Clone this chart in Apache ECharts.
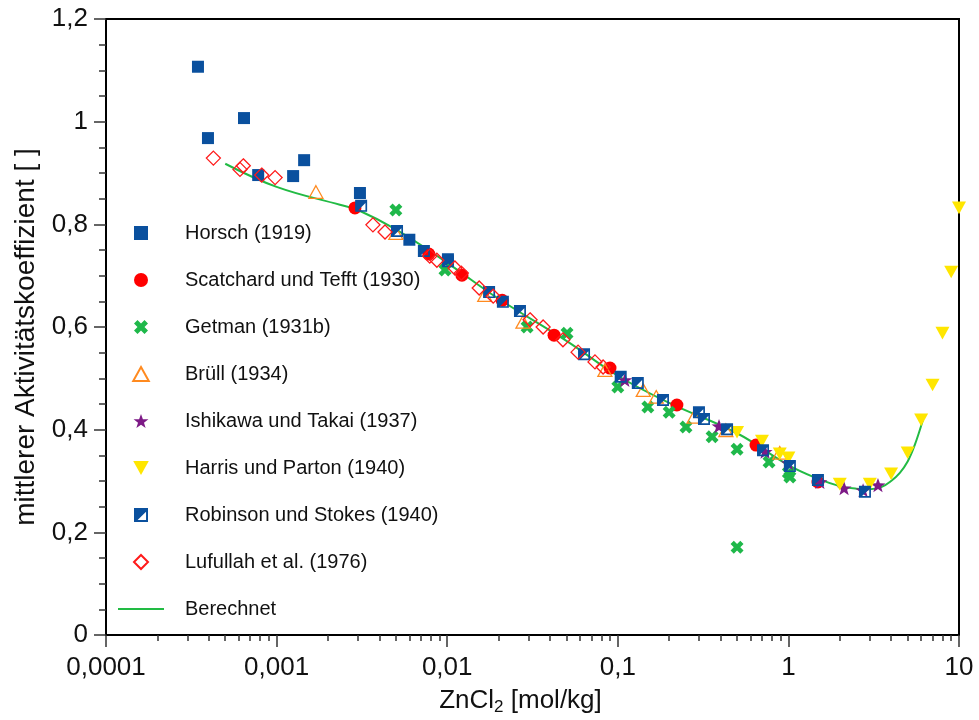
<!DOCTYPE html>
<html>
<head>
<meta charset="utf-8">
<script src="https://cdn.jsdelivr.net/npm/echarts@6/dist/echarts.min.js"></script>
<style>
html, body { margin: 0; padding: 0; background: #fff; }
#chart { width: 979px; height: 720px; }
</style>
</head>
<body>
<div id="chart"></div>
<script>
// Messwerte: [Molalität mol/kg, mittlerer Aktivitätskoeffizient]
var horsch = [[0.000346, 1.107], [0.000396, 0.968], [0.000644, 1.007], [0.00078, 0.896], [0.00125, 0.894],
	[0.00145, 0.925], [0.00308, 0.861], [0.0060, 0.770], [0.0101, 0.732]];
var scatchard = [[0.00288, 0.832], [0.0078, 0.742], [0.0122, 0.701], [0.021, 0.652], [0.0423, 0.584],
	[0.090, 0.520], [0.222, 0.448], [0.646, 0.370], [1.49, 0.298]];
var getman = [[0.005, 0.828], [0.0097, 0.711], [0.0294, 0.600], [0.0504, 0.588], [0.1, 0.483], [0.15, 0.444],
	[0.2, 0.434], [0.251, 0.405], [0.357, 0.386], [0.5, 0.362], [0.5, 0.171], [0.77, 0.337], [1.0, 0.316], [1.02, 0.308]];
var bruell = [[0.0017, 0.863], [0.005, 0.783], [0.0166, 0.662], [0.0278, 0.610], [0.084, 0.516], [0.141, 0.477],
	[0.168, 0.464], [0.28, 0.425], [0.43, 0.399], [0.89, 0.355]];
var ishikawa = [[0.110, 0.497], [0.392, 0.407], [0.73, 0.357], [1.0, 0.335], [1.53, 0.298], [2.12, 0.286],
	[2.74, 0.282], [3.35, 0.292]];
var harris = [[0.5, 0.395], [0.70, 0.378], [0.89, 0.353], [1.0, 0.345], [2.0, 0.294], [3.0, 0.294], [4.0, 0.314],
	[5.0, 0.355], [6.0, 0.419], [7.0, 0.487], [8.0, 0.588], [9.0, 0.707], [10, 0.832]];
var robinson = [[0.00313, 0.836], [0.00508, 0.787], [0.0073, 0.748], [0.0101, 0.728], [0.0176, 0.668],
	[0.0212, 0.649], [0.0267, 0.631], [0.0634, 0.547], [0.104, 0.503], [0.131, 0.491], [0.184, 0.458],
	[0.299, 0.434], [0.32, 0.421], [0.437, 0.401], [0.71, 0.360], [1.02, 0.329], [1.49, 0.302], [2.81, 0.279]];
var lufullah = [[0.000426, 0.929], [0.00061, 0.907], [0.000638, 0.914], [0.000818, 0.896], [0.00098, 0.891],
	[0.00367, 0.799], [0.00432, 0.785], [0.0079, 0.738], [0.0087, 0.730], [0.0111, 0.715], [0.0121, 0.705],
	[0.0154, 0.676], [0.0186, 0.660], [0.0306, 0.614], [0.0365, 0.600], [0.0477, 0.575], [0.0585, 0.551],
	[0.0735, 0.532], [0.082, 0.522]];
// berechnete Kurve
var berechnet = [[0.0005, 0.918], [0.001, 0.873], [0.00235, 0.838], [0.003, 0.828], [0.005, 0.790], [0.01, 0.725],
	[0.02, 0.655], [0.05, 0.573], [0.1, 0.505], [0.2, 0.452], [0.5, 0.393], [1.0, 0.331], [1.5, 0.304],
	[2.0, 0.290], [2.5, 0.285], [3.0, 0.284], [3.5, 0.288], [4.0, 0.300], [4.5, 0.316], [5.0, 0.338],
	[5.5, 0.370], [6.13, 0.418]];

var xTickLabels = ['0,0001', '0,001', '0,01', '0,1', '1', '10'];

// Nebenstriche der log-Achse (2..9 je Dekade), im log-Raum
var xMinor = [];
for (var k = -4; k < 1; k++) {
	for (var m = 2; m <= 9; m++) {
		xMinor.push(k + Math.log10(m));
	}
}

var FONT = '"Liberation Sans", Arial, sans-serif';
var tickStyle = { color: '#333', width: 1.5 };

// Symbole als Pfade, damit die Legende das Seitenverhältnis behält
var SYM = {
	quadrat: 'path://M0,0 L10,0 L10,10 L0,10 Z',
	kreuz: 'path://M0,2.5 L2.5,0 L5,2.5 L7.5,0 L10,2.5 L7.5,5 L10,7.5 L7.5,10 L5,7.5 L2.5,10 L0,7.5 L2.5,5 Z',
	dreieck: 'path://M5,0 L10,9 L0,9 Z',
	dreieckUnten: 'path://M0,0 L10,0 L5,9 Z',
	stern: 'path://M12,1 L14.9,9.1 L23.4,9.2 L16.6,14.3 L19.1,22.5 L12,17.6 L4.9,22.5 L7.4,14.3 L0.6,9.2 L9.1,9.1 Z',
	halb: 'path://M0,0 L10,0 L10,10 L0,10 Z M8.6,2.6 L2.6,8.6 L8.6,8.6 Z',
	raute: 'path://M5,0 L10,5 L5,10 L0,5 Z'
};

function punkte(name, data, symbol, size, itemStyle) {
	itemStyle.opacity = 1;
	return {
		name: name,
		type: 'scatter',
		data: data,
		symbol: symbol,
		symbolSize: size,
		symbolKeepAspect: true,
		itemStyle: itemStyle,
		emphasis: { disabled: true }
	};
}

var chart = echarts.init(document.getElementById('chart'));

chart.setOption({
	animation: false,
	textStyle: { fontFamily: FONT },
	grid: {
		left: 106, right: 20, top: 19, bottom: 85,
		outerBoundsMode: 'none',
		containLabel: false,
		show: true, borderColor: '#000', borderWidth: 2
	},
	legend: {
		orient: 'vertical',
		left: 117,
		top: 223,
		padding: 0,
		itemWidth: 46,
		itemHeight: 14,
		itemGap: 27,
		symbolKeepAspect: true,
		textStyle: { fontFamily: FONT, fontSize: 20, color: '#111', lineHeight: 20, padding: [0, 0, 0, 16] },
		data: ['Horsch (1919)', 'Scatchard und Tefft (1930)', 'Getman (1931b)', 'Brüll (1934)',
			'Ishikawa und Takai (1937)', 'Harris und Parton (1940)', 'Robinson und Stokes (1940)',
			'Lufullah et al. (1976)', { name: 'Berechnet', itemStyle: { opacity: 0 } }]
	},
	xAxis: [{
		type: 'log',
		logBase: 10,
		min: 0.0001,
		max: 10,
		axisLine: { lineStyle: { color: '#000', width: 2 } },
		axisTick: { length: 12, lineStyle: tickStyle },
		axisLabel: {
			fontSize: 26, margin: 20, color: '#111', fontFamily: FONT,
			formatter: function (v) { return xTickLabels[Math.round(Math.log10(v)) + 4]; }
		},
		splitLine: { show: false },
		name: '{n|ZnCl}{s|2}{n| [mol/kg]}',
		nameLocation: 'middle',
		nameGap: 50,
		nameTextStyle: {
			padding: [0, 24, 0, 0],
			rich: {
				n: { fontSize: 26, fontFamily: FONT, color: '#111' },
				s: { fontSize: 17, fontFamily: FONT, color: '#111', padding: [14, 0, 0, 0] }
			}
		}
	}, {
		type: 'value',
		min: -4,
		max: 1,
		position: 'bottom',
		axisLine: { show: false },
		axisLabel: { show: false },
		splitLine: { show: false },
		axisTick: { customValues: xMinor, length: 6, lineStyle: tickStyle }
	}],
	yAxis: {
		type: 'value',
		min: 0,
		max: 1.2,
		interval: 0.2,
		axisLine: { show: true, onZero: false, lineStyle: { color: '#000', width: 2 } },
		axisTick: { show: true, length: 12, lineStyle: tickStyle },
		minorTick: { show: true, splitNumber: 4, length: 7, lineStyle: tickStyle },
		splitLine: { show: false },
		axisLabel: {
			fontSize: 26, margin: 18, color: '#111', fontFamily: FONT,
			formatter: function (v) { return String(Math.round(v * 10) / 10).replace('.', ','); }
		},
		name: 'mittlerer Aktivitätskoeffizient [ ]',
		nameLocation: 'middle',
		nameGap: 66,
		nameTextStyle: { fontSize: 28, fontFamily: FONT, color: '#111', padding: [0, 20, 0, 0] }
	},
	series: [
		{
			name: 'Berechnet',
			type: 'line',
			data: berechnet,
			smooth: 0.4,
			symbol: 'none',
			z: 1,
			lineStyle: { color: '#22bb44', width: 2 },
			itemStyle: { color: '#22bb44' }
		},
		punkte('Horsch (1919)', horsch, SYM.quadrat, 12, { color: '#0a509e' }),
		punkte('Scatchard und Tefft (1930)', scatchard, 'circle', 13, { color: '#ff0000' }),
		punkte('Getman (1931b)', getman, SYM.kreuz, 13, { color: '#1fb84a' }),
		punkte('Brüll (1934)', bruell, SYM.dreieck, 14,
			{ color: 'rgba(255,255,255,0)', borderColor: '#ff8a1f', borderWidth: 1.3 }),
		punkte('Ishikawa und Takai (1937)', ishikawa, SYM.stern, 15, { color: '#7d1a86' }),
		punkte('Harris und Parton (1940)', harris, SYM.dreieckUnten, 14, { color: '#ffe600' }),
		punkte('Robinson und Stokes (1940)', robinson, SYM.halb, 12, { color: '#0a509e' }),
		punkte('Lufullah et al. (1976)', lufullah, SYM.raute, 14,
			{ color: 'rgba(255,255,255,0)', borderColor: '#ff1a1a', borderWidth: 1.3 })
	]
});
</script>
</body>
</html>
